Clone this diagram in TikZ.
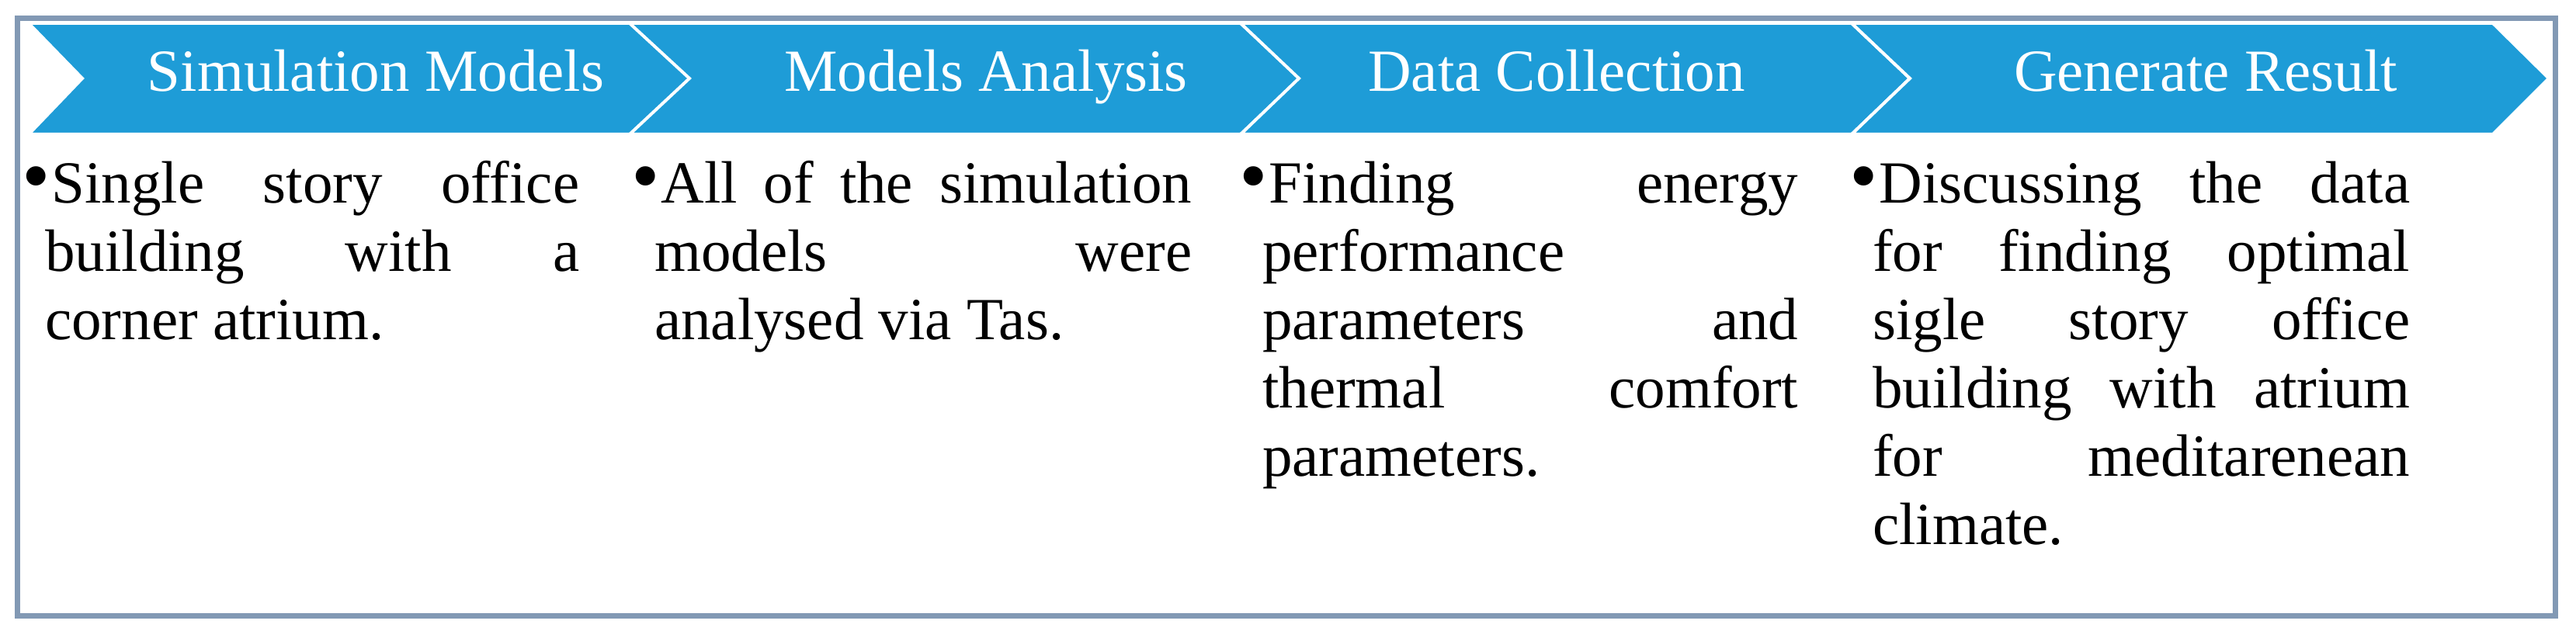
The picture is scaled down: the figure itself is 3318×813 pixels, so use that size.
\documentclass[tikz,border=0pt]{standalone}
\usepackage{fontspec}
\usepackage{graphicx}
\setmainfont{Liberation Serif}
\definecolor{chevblue}{HTML}{1E9CD7}
\definecolor{framegray}{HTML}{8299B4}
\tikzset{
  chevron/.style={fill=chevblue, draw=white, line width=4pt, line join=miter},
  steptitle/.style={text=white, inner sep=0pt, anchor=base, font=\fontsize{77}{88}\selectfont},
  bodyline/.style={inner sep=0pt, anchor=base west, font=\fontsize{77}{88}\selectfont},
  outerframe/.style={draw=framegray, line width=7pt},
}
\newcommand{\jline}[2]{\makebox[#1pt][s]{#2}}
\newcommand{\bigbul}{\scalebox{1.35}{\textbullet}}
\begin{document}
\begin{tikzpicture}[x=1pt,y=-1pt]
\useasboundingbox (0,0) rectangle (3318,813);
\draw[outerframe] (22,24) rectangle (3291,793);
% chevrons
\path[chevron] (37,30) -- (812,30) -- (889,101) -- (812,173) -- (37,173) -- (106,101) -- cycle;
\path[chevron] (811,30) -- (1598,30) -- (1675,101) -- (1598,173) -- (811,173) -- (888,101) -- cycle;
\path[chevron] (1598,30) -- (2385,30) -- (2460,101) -- (2385,173) -- (1598,173) -- (1673,101) -- cycle;
\path[chevron] (2385,30) -- (3211,30) -- (3283,101) -- (3211,173) -- (2385,173) -- (2460,101) -- cycle;
% titles
\node[steptitle] (t1) at (484,118) {Simulation Models};
\node[steptitle] (t2) at (1270,118) {Models Analysis};
\node[steptitle] (t3) at (2005,118) {Data Collection};
\node[steptitle] (t4) at (2841,118) {Generate Result};
% column 1
\node[bodyline] (c1a) at (28,261) {\jline{718}{\bigbul\hspace{2pt}Single story office}};
\node[bodyline] (c1b) at (58,349) {\jline{688}{building with a}};
\node[bodyline] (c1c) at (58,437) {corner atrium.};
% column 2
\node[bodyline] (c2a) at (813,261) {\jline{722}{\bigbul\hspace{2pt}All of the simulation}};
\node[bodyline] (c2b) at (843,349) {\jline{692}{models were}};
\node[bodyline] (c2c) at (843,437) {analysed via Tas.};
% column 3
\node[bodyline] (c3a) at (1596,261) {\jline{720}{\bigbul\hspace{2pt}Finding energy}};
\node[bodyline] (c3b) at (1626,349) {performance};
\node[bodyline] (c3c) at (1626,437) {\jline{690}{parameters and}};
\node[bodyline] (c3d) at (1626,525) {\jline{690}{thermal comfort}};
\node[bodyline] (c3e) at (1626,613) {parameters.};
% column 4
\node[bodyline] (c4a) at (2382,261) {\jline{722}{\bigbul\hspace{2pt}Discussing the data}};
\node[bodyline] (c4b) at (2412,349) {\jline{692}{for finding optimal}};
\node[bodyline] (c4c) at (2412,437) {\jline{692}{sigle story office}};
\node[bodyline] (c4d) at (2412,525) {\jline{692}{building with atrium}};
\node[bodyline] (c4e) at (2412,613) {\jline{692}{for meditarenean}};
\node[bodyline] (c4f) at (2412,701) {climate.};
\end{tikzpicture}
\end{document}
